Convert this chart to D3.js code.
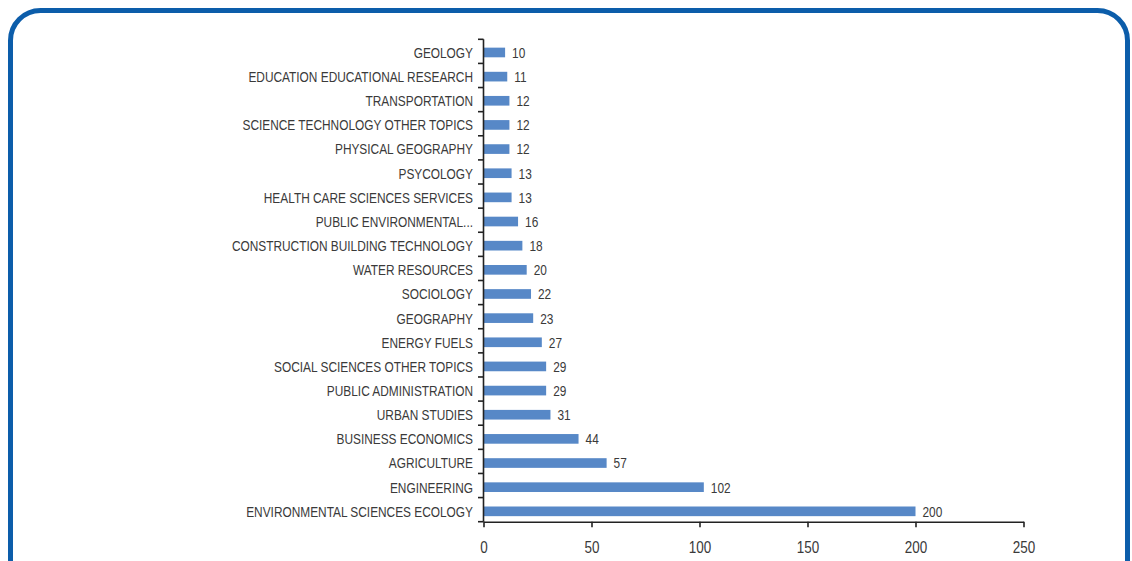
<!DOCTYPE html>
<html><head><meta charset="utf-8">
<script src="https://cdn.jsdelivr.net/npm/d3@7"></script>
<style>
html,body{margin:0;padding:0;background:#fff;overflow:hidden;}
svg{display:block;}
text{font-family:"Liberation Sans",Arial,sans-serif;}
</style></head>
<body>
<svg id="c" width="1132" height="561"></svg>
<script>
const categories = [
  "GEOLOGY","EDUCATION EDUCATIONAL RESEARCH","TRANSPORTATION","SCIENCE TECHNOLOGY OTHER TOPICS",
  "PHYSICAL GEOGRAPHY","PSYCOLOGY","HEALTH CARE SCIENCES SERVICES","PUBLIC ENVIRONMENTAL...",
  "CONSTRUCTION BUILDING TECHNOLOGY","WATER RESOURCES","SOCIOLOGY","GEOGRAPHY","ENERGY FUELS",
  "SOCIAL SCIENCES OTHER TOPICS","PUBLIC ADMINISTRATION","URBAN STUDIES","BUSINESS ECONOMICS",
  "AGRICULTURE","ENGINEERING","ENVIRONMENTAL SCIENCES ECOLOGY"
];
const values = [10,11,12,12,12,13,13,16,18,20,22,23,27,29,29,31,44,57,102,200];
const xTicks = [0,50,100,150,200,250];

const FS = 15, FS_TICK = 17, TXT = "#3a3a3a", AX = "#222";
const svg = d3.select("#c");

// frame
svg.append("rect").attr("x",10.5).attr("y",10.5).attr("width",1117).attr("height",580)
  .attr("rx",30).attr("ry",30).attr("fill","none").attr("stroke","#0C5DAA").attr("stroke-width",5);

// measure to emulate a condensed face
const probe = svg.append("text").attr("font-size",FS).text("ENVIRONMENTAL SCIENCES ECOLOGY");
const sx = 227 / probe.node().getComputedTextLength();
probe.remove();

const pLeft = 483.5, pRight = 1023.5, pTop = 39.3, pBottom = 521.7;
const x = d3.scaleLinear().domain([0,250]).range([pLeft,pRight]);
const y = d3.scaleBand().domain(categories).range([40.4,523.4]).paddingInner(0.6).paddingOuter(0.3);

const g = svg.append("g");
g.selectAll("rect.bar").data(categories).enter().append("rect")
  .attr("class","bar")
  .attr("x",x(0)).attr("y",d=>y(d))
  .attr("width",(d,i)=>x(values[i])-x(0)).attr("height",y.bandwidth())
  .attr("fill","#5788C7");

g.selectAll("text.val").data(categories).enter().append("text")
  .attr("class","val")
  .attr("transform",(d,i)=>`translate(${x(values[i])+7},${y(d)+y.bandwidth()/2}) scale(${sx},1)`)
  .attr("dy","0.36em").attr("font-size",FS).attr("fill",TXT)
  .text((d,i)=>values[i]);

// y axis
const yAxisG = svg.append("g").attr("transform",`translate(${pLeft},0)`);
yAxisG.append("line").attr("x1",0).attr("x2",0).attr("y1",pTop).attr("y2",pBottom)
  .attr("stroke",AX).attr("stroke-width",1.6);
const step = (pBottom-pTop)/categories.length;
const bounds = d3.range(categories.length+1).map(i=>pTop+i*step);
yAxisG.selectAll("line.t").data(bounds).enter().append("line")
  .attr("class","t").attr("x1",-5.5).attr("x2",0).attr("y1",d=>d).attr("y2",d=>d)
  .attr("stroke",AX).attr("stroke-width",1.6);
yAxisG.selectAll("text").data(categories).enter().append("text")
  .attr("transform",d=>`translate(-10.5,${y(d)+y.bandwidth()/2}) scale(${sx},1)`)
  .attr("dy","0.36em")
  .attr("text-anchor","end").attr("font-size",FS).attr("fill",TXT).text(d=>d);

// x axis
const xAxis = d3.axisBottom(x).tickValues(xTicks).tickSize(5.5).tickSizeOuter(0).tickPadding(14);
const xg = svg.append("g").attr("transform",`translate(0,${pBottom})`).call(xAxis);
xg.select(".domain").attr("stroke",AX).attr("stroke-width",1.6);
xg.selectAll(".tick line").attr("stroke",AX).attr("stroke-width",1.6);
xg.selectAll("text").attr("font-size",FS_TICK).attr("fill",TXT)
  .attr("font-family","'Liberation Sans',Arial,sans-serif")
  .attr("transform",`scale(${sx},1)`);
</script>
</body></html>
